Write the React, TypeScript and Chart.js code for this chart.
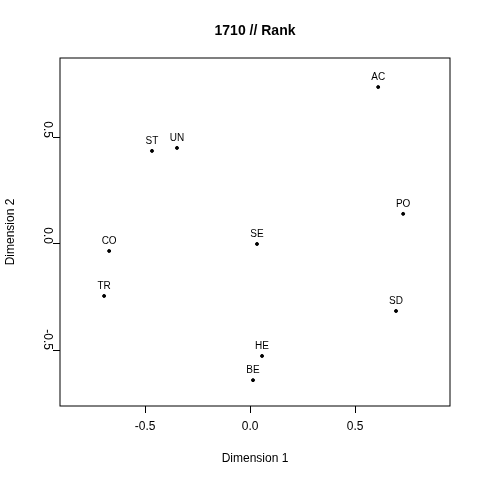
import { useEffect, useRef } from 'react'
import { Chart, registerables } from 'chart.js'

Chart.register(...registerables)

const labels = ['AC', 'ST', 'UN', 'PO', 'CO', 'SE', 'TR', 'SD', 'HE', 'BE']
const dim1 = [0.61, -0.467, -0.348, 0.729, -0.671, 0.033, -0.695, 0.695, 0.057, 0.014]
const dim2 = [0.74, 0.439, 0.453, 0.142, -0.033, 0.0, -0.245, -0.316, -0.528, -0.642]
const tickValues = [-0.5, 0, 0.5]

const font = 'Liberation Sans, Arial, sans-serif'

const decor = {
  id: 'decor',
  afterDraw(chart: any) {
    const { ctx, chartArea: a } = chart
    ctx.save()
    ctx.strokeStyle = '#000'
    ctx.lineWidth = 1
    ctx.strokeRect(a.left, a.top, a.right - a.left, a.bottom - a.top)
    ctx.fillStyle = '#000'
    ctx.textAlign = 'center'
    ctx.font = `bold 14px ${font}`
    ctx.fillText('1710 // Rank', 255, 35)
    ctx.font = `12px ${font}`
    ctx.fillText('Dimension 1', 255, 462)
    ctx.save()
    ctx.translate(14, 232)
    ctx.rotate(-Math.PI / 2)
    ctx.fillText('Dimension 2', 0, 0)
    ctx.restore()
    ctx.font = `10px ${font}`
    const meta = chart.getDatasetMeta(0)
    meta.data.forEach((p: any, i: number) => {
      ctx.fillText(labels[i], p.x, p.y - 7)
    })
    ctx.restore()
  },
}

export default function App() {
  const ref = useRef<HTMLCanvasElement>(null)

  useEffect(() => {
    document.body.style.margin = '0'
    if (!ref.current) return
    const chart = new Chart(ref.current, {
      type: 'scatter',
      data: {
        datasets: [{
          data: dim1.map((x, i) => ({ x, y: dim2[i] })),
          backgroundColor: '#000',
          borderColor: '#000',
          pointRadius: 1.5,
        }],
      },
      options: {
        animation: false,
        responsive: false,
        layout: { padding: { left: 0, top: 58, right: 30, bottom: 0 } },
        plugins: { legend: { display: false }, tooltip: { enabled: false } },
        scales: {
          x: {
            min: -0.905, max: 0.952,
            afterFit: (s: any) => { s.height = 74 },
            afterBuildTicks: (s: any) => { s.ticks = tickValues.map(v => ({ value: v })) },
            grid: { drawOnChartArea: false, tickLength: 7, color: '#000' },
            border: { display: false },
            ticks: { color: '#000', padding: 6, font: { size: 12, family: font }, callback: (v: any) => Number(v).toFixed(1) },
          },
          y: {
            min: -0.764, max: 0.877,
            afterFit: (s: any) => { s.width = 60 },
            afterBuildTicks: (s: any) => { s.ticks = tickValues.map(v => ({ value: v })) },
            grid: { drawOnChartArea: false, tickLength: 7, color: '#000' },
            border: { display: false },
            ticks: { color: '#000', padding: 6, minRotation: -90, maxRotation: -90, font: { size: 12, family: font }, callback: (v: any) => Number(v).toFixed(1) },
          },
        },
      },
      plugins: [decor],
    })
    return () => chart.destroy()
  }, [])

  return <canvas ref={ref} width={480} height={480} style={{ display: 'block' }} />
}
